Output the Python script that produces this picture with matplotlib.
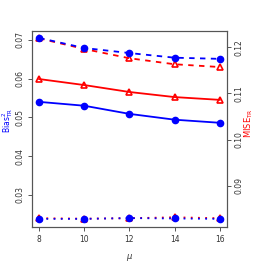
import matplotlib
matplotlib.use("Agg")
import matplotlib.pyplot as plt

# x values (mu)
mu = [8, 10, 12, 14, 16]

# Bias^2 series (left axis, blue)
bias_solid = [0.0540, 0.0530, 0.0509, 0.0494, 0.0486]
bias_dashed = [0.0705, 0.0679, 0.0666, 0.0654, 0.0651]
bias_dotted = [0.0238, 0.0238, 0.0240, 0.0239, 0.0238]

# MISE series (right axis, red)
mise_solid = [0.1131, 0.1118, 0.1103, 0.1092, 0.1086]
mise_dashed = [0.1219, 0.1196, 0.1176, 0.1163, 0.1157]
mise_dotted = [0.0830, 0.0829, 0.0830, 0.0832, 0.0830]

left_ticks = [0.03, 0.04, 0.05, 0.06, 0.07]
right_ticks = [0.09, 0.10, 0.11, 0.12]

fig = plt.figure(figsize=(2.66, 2.66), dpi=100)
ax = fig.add_axes([0.120, 0.1466, 0.733, 0.737])
ax2 = ax.twinx()

axcol = "#555555"
lw = 1.3

# red series first on the twin axis, blue drawn on top
for y, ls in [(mise_solid, "-"), (mise_dashed, (0, (3, 3))), (mise_dotted, (0, (1, 3)))]:
    ax2.plot(mu, y, color="red", linestyle=ls, lw=lw, marker="^", ms=5,
             mfc="none", mec="red", mew=1.2)
for y, ls in [(bias_solid, "-"), (bias_dashed, (0, (3, 3))), (bias_dotted, (0, (1, 3)))]:
    ax.plot(mu, y, color="blue", linestyle=ls, lw=lw, marker="o", ms=4.5,
            mfc="blue", mec="blue")

ax.set_zorder(ax2.get_zorder() + 1)
ax.patch.set_visible(False)

ax.set_xlim(7.68, 16.32)
ax.set_ylim(0.0217, 0.0723)
ax2.set_ylim(0.0811, 0.1235)

ax.set_xticks(mu)
ax.set_xticklabels([str(m) for m in mu])
ax.set_yticks(left_ticks)
ax.set_yticklabels([f"{t:.2f}" for t in left_ticks], rotation=90, va="center")
ax2.set_yticks(right_ticks)
ax2.set_yticklabels([f"{t:.2f}" for t in right_ticks], rotation=90, va="center")

for a in (ax, ax2):
    for s in a.spines.values():
        s.set_color(axcol)
        s.set_linewidth(0.8)
    a.tick_params(colors=axcol, labelcolor="#333333", labelsize=5.5, length=3, width=0.7, pad=2.5)

ax.set_xlabel(r"$\mu$", fontsize=6, color="#333333", labelpad=6)
ax.set_ylabel(r"Bias$^2_{\mathrm{TR}}$", color="blue", fontsize=5.5)
ax2.set_ylabel(r"MISE$_{\mathrm{TR}}$", color="red", fontsize=6, rotation=90)
ax.yaxis.set_label_coords(-0.085, 0.545)
ax2.yaxis.set_label_coords(1.080, 0.53)

plt.savefig("out.png", dpi=100)
